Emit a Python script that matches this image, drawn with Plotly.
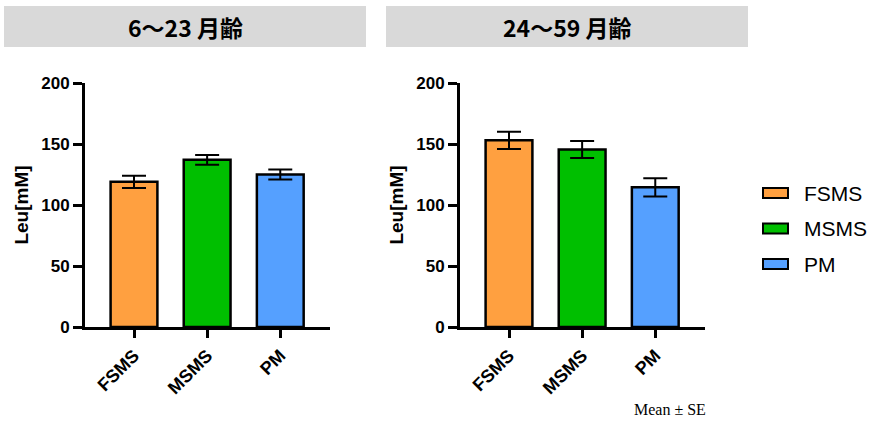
import plotly.graph_objects as go

categories = ["FSMS", "MSMS", "PM"]
colors = ["#FFA040", "#00BF00", "#55A0FF"]
panel_titles = ["6～23 月齢", "24～59 月齢"]
means_6_23 = [119, 137, 125]
se_6_23 = [5, 4, 4]
means_24_59 = [153, 145.5, 114.5]
se_24_59 = [7, 7, 7.5]
y_ticks = [0, 50, 100, 150, 200]

W, H = 873, 423
px = lambda x: x / W
py = lambda y: 1 - y / H

fig = go.Figure()
font_b = "Liberation Sans"
for i, (means, ses) in enumerate([(means_6_23, se_6_23), (means_24_59, se_24_59)]):
    xa = "x" if i == 0 else "x2"
    ya = "y" if i == 0 else "y2"
    fig.add_trace(go.Bar(
        x=categories, y=means, xaxis=xa, yaxis=ya, width=0.64,
        marker=dict(color=colors, line=dict(color="black", width=2.5)),
        error_y=dict(type="data", array=ses, visible=True, color="black", thickness=2, width=12),
        showlegend=False, hoverinfo="skip",
    ))

axis_common_x = dict(
    type="category", range=[-0.67, 2.68], showline=True, linecolor="black", linewidth=3,
    ticks="outside", ticklen=8, tickwidth=2.5, tickcolor="black", tickangle=-45,
    tickfont=dict(family=font_b, size=18, color="black", weight="bold"),
    showgrid=False, zeroline=False, fixedrange=True, automargin=False,
)
axis_common_y = dict(
    range=[0, 200], tickvals=y_ticks, showline=True, linecolor="black", linewidth=3,
    ticks="outside", ticklen=9, tickwidth=2.5, tickcolor="black",
    tickfont=dict(family=font_b, size=17, color="black", weight="bold"),
    title=dict(text="Leu[mM]", font=dict(family=font_b, size=19, color="black", weight="bold"), standoff=8),
    showgrid=False, zeroline=False, automargin=False, fixedrange=True,
)
ydom = [py(327), py(83)]
fig.update_layout(
    width=W, height=H, margin=dict(l=0, r=0, t=0, b=0, autoexpand=False),
    plot_bgcolor="white", paper_bgcolor="white",
    xaxis=dict(domain=[px(85), px(330)], anchor="y", **axis_common_x),
    yaxis=dict(domain=ydom, anchor="x", **axis_common_y),
    xaxis2=dict(domain=[px(460), px(705)], anchor="y2", **axis_common_x),
    yaxis2=dict(domain=ydom, anchor="x2", **axis_common_y),
)

shapes = []
annotations = []
# title boxes
for (x0, x1), title in zip([(4, 366), (386, 748)], panel_titles):
    shapes.append(dict(type="rect", xref="paper", yref="paper", x0=px(x0), x1=px(x1),
                       y0=py(47), y1=py(6), fillcolor="#D9D9D9", line=dict(width=0), layer="below"))
    annotations.append(dict(xref="paper", yref="paper", x=px((x0 + x1) / 2), y=py(27),
                            text=title, showarrow=False, xanchor="center", yanchor="middle",
                            font=dict(family="Noto Sans CJK JP", size=23, color="black", weight="bold")))
# legend
for k, (cat, col) in enumerate(zip(categories, colors)):
    yc = 193 + k * 35.5
    shapes.append(dict(type="rect", xref="paper", yref="paper", x0=px(763), x1=px(788),
                       y0=py(yc + 5), y1=py(yc - 5), fillcolor=col, line=dict(color="black", width=2)))
    annotations.append(dict(xref="paper", yref="paper", x=px(802), y=py(yc), text=cat,
                            showarrow=False, xanchor="left", yanchor="middle",
                            font=dict(family="Liberation Sans", size=21, color="black")))
annotations.append(dict(xref="paper", yref="paper", x=px(670), y=py(409), text="Mean ± SE",
                        showarrow=False, xanchor="center", yanchor="middle",
                        font=dict(family="Liberation Serif", size=16, color="black")))
fig.update_layout(shapes=shapes, annotations=annotations)

fig.write_html("out.html", config={"displayModeBar": False},
               post_script="document.body.style.margin='0';document.body.style.overflow='hidden';")
